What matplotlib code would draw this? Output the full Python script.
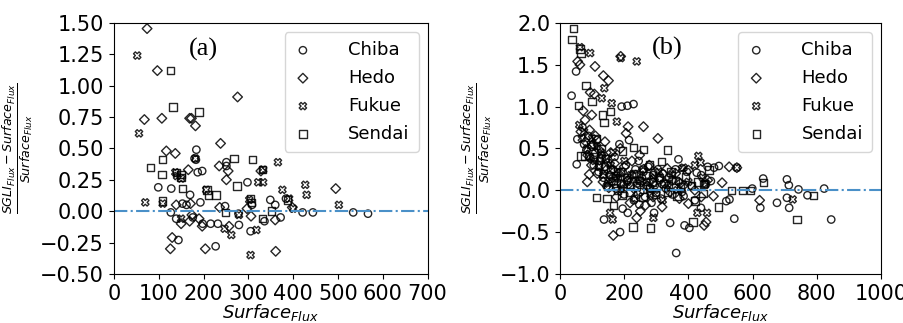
import numpy as np
import matplotlib.pyplot as plt

# ---- panel (a) ----
a_chiba_x = [180, 184, 187, 197, 99, 128, 170, 193, 153, 162, 127, 139, 144, 176, 198, 216, 232, 227,
             248, 251, 278, 279, 298, 305, 308, 336, 349, 360, 372, 384, 421, 444, 534, 567, 251, 183]
a_chiba_y = [0.42, 0.49, 0.31, 0.32, 0.19, 0.18, 0.13, 0.07, 0.06, 0.05, -0.01, -0.06, -0.23, -0.05, -0.10,
             -0.10, -0.10, -0.28, 0.04, 0.39, -0.02, -0.11, 0.23, -0.16, 0.05, -0.08, 0.09, 0.05, -0.05, 0.10,
             -0.01, -0.01, -0.01, -0.02, 0.36, 0.41]
a_hedo_x = [74, 97, 68, 107, 117, 137, 169, 173, 182, 276, 238, 166, 235, 251, 255, 139, 150, 130, 126,
            171, 174, 190, 204, 236, 257, 297, 306, 360, 361, 398, 495, 197, 169, 328]
a_hedo_y = [1.455, 1.12, 0.73, 0.74, 0.48, 0.46, 0.74, 0.74, 0.68, 0.91, 0.54, 0.33, 0.36, 0.25, 0.32, 0.05,
            -0.10, -0.21, -0.30, 0.06, -0.03, -0.06, -0.30, 0.03, -0.12, 0.02, -0.04, -0.07, -0.32, 0.03, 0.18,
            -0.12, -0.08, 0.32]
a_fukue_x = [52, 56, 70, 109, 137, 141, 150, 182, 206, 262, 247, 279, 318, 322, 333, 333, 366, 376, 391,
             400, 427, 430, 502, 305, 302, 150]
a_fukue_y = [1.24, 0.62, 0.07, 0.06, 0.31, 0.28, -0.06, 0.42, 0.17, -0.19, -0.14, -0.03, -0.15, 0.23, 0.23,
             0.33, 0.39, 0.17, 0.10, 0.02, 0.21, 0.13, 0.05, -0.35, 0.09, 0.26]
a_sendai_x = [126, 132, 190, 81, 108, 107, 153, 150, 208, 211, 228, 268, 275, 309, 331, 305, 307, 249, 332,
              351, 387, 109, 139, 150]
a_sendai_y = [1.12, 0.83, 0.79, 0.35, 0.41, 0.29, 0.18, 0.27, 0.17, 0.13, 0.13, 0.42, 0.20, 0.41, 0.33, 0.10,
              0.07, -0.01, -0.06, 0.00, 0.09, 0.08, 0.31, 0.29]

# ---- panel (b) ----
b_chiba_x = [36, 50, 54, 52, 229, 210, 192, 137, 187, 362, 388, 403, 343, 543, 528, 624, 633, 676, 707, 713,
             707, 714, 743, 771, 823, 845, 599, 369, 426, 495, 470, 518, 439, 385, 293, 247, 195, 211,
             70, 75, 82, 88, 95, 100, 105, 110, 115, 120, 125, 130, 135, 140, 145, 150, 155, 160, 165, 170,
             175, 180, 185, 190, 195, 200, 205, 210, 215, 220, 225, 230, 235, 240, 245, 250, 255, 260, 265,
             270, 275, 280, 285, 290, 295, 300, 305, 310, 315, 320, 330, 340, 350, 360, 370, 380, 395, 410,
             420, 440, 460, 480]
b_chiba_y = [1.13, 1.42, 0.61, 0.31, 1.03, 1.01, 1.00, -0.35, -0.50, -0.75, -0.42, -0.45, -0.39, -0.34, -0.11,
             -0.21, 0.14, -0.15, 0.13, 0.06, -0.09, -0.21, 0.01, -0.06, 0.02, -0.35, 0.02, 0.37, 0.21, 0.29,
             0.11, -0.13, -0.21, -0.07, -0.27, -0.17, -0.22, -0.27,
             0.75, 0.55, 0.48, 0.65, 0.38, 0.52, 0.30, 0.45, 0.60, 0.22, 0.35, 0.42, 0.15, 0.28, 0.05, 0.33,
             0.18, 0.10, 0.25, 0.40, 0.02, 0.14, 0.55, 0.08, 0.22, -0.05, 0.30, 0.12, 0.60, 0.05, 0.18, -0.12,
             0.25, 0.08, 0.35, -0.02, 0.15, 0.22, -0.08, 0.10, 0.28, 0.03, -0.15, 0.18, 0.06, -0.03, 0.25,
             0.12, -0.10, 0.20, 0.02, 0.15, -0.05, 0.25, 0.10, -0.02, 0.22, 0.05, -0.12, 0.18, 0.28, 0.27]
b_hedo_x = [55, 62, 109, 135, 151, 94, 107, 189, 212, 260, 305, 99, 78, 91, 85, 166, 239, 250, 455, 449,
            478, 505, 527, 551, 622, 400, 374,
            65, 72, 80, 86, 92, 98, 104, 110, 116, 122, 128, 134, 140, 146, 152, 158, 164, 170, 176, 182,
            188, 194, 200, 206, 212, 218, 224, 230, 236, 242, 248, 254, 260, 266, 272, 278, 284, 290, 296,
            302, 310, 318, 326, 334, 342, 350, 360, 372, 385, 400, 420, 440, 460]
b_hedo_y = [1.54, 1.50, 1.48, 1.37, 1.31, 1.17, 1.15, 1.60, 0.76, 0.76, 0.62, 0.90, 0.84, 0.19, 0.10, -0.54,
            -0.33, -0.25, -0.38, -0.42, -0.07, 0.09, 0.28, 0.27, -0.12, -0.16, 0.08,
            0.70, 0.95, 0.58, 0.42, 0.72, 0.30, 0.55, 0.65, 0.20, 0.48, 0.38, 0.10, 0.58, 0.25, 0.03, 0.45,
            0.15, 0.32, -0.08, 0.20, 0.50, 0.05, 0.28, 0.68, 0.12, -0.15, 0.35, 0.02, 0.18, -0.05, 0.42, 0.10,
            0.25, -0.18, 0.05, 0.30, 0.12, -0.08, 0.22, 0.02, 0.15, -0.20, 0.08, 0.26, -0.02, 0.12, 0.20,
            -0.10, 0.06, 0.24, 0.00, -0.08, 0.12]
b_fukue_x = [62, 94, 189, 239, 138, 130, 161, 177, 431, 438, 551, 725, 428, 164, 156, 291, 458, 385,
             60, 68, 75, 85, 92, 100, 108, 115, 122, 128, 135, 142, 150, 158, 165, 172, 180, 190, 200, 210,
             220, 232, 245, 258, 270, 282, 295, 308, 320, 335, 350, 365, 380, 400, 420, 445, 455]
b_fukue_y = [1.71, 1.64, 1.58, 1.54, 1.22, 1.10, 1.04, 0.82, 0.41, 0.33, 0.27, -0.11, -0.27, -0.35, -0.27,
             -0.33, -0.27, 0.27,
             0.78, 0.62, 0.70, 0.50, 0.40, 0.62, 0.35, 0.52, 0.28, 0.45, 0.18, 0.38, 0.08, 0.30, 0.45, 0.15,
             0.22, 0.02, 0.35, 0.10, 0.18, -0.10, 0.12, 0.25, 0.05, -0.05, 0.15, 0.22, -0.12, 0.08, 0.18,
             0.00, 0.26, 0.10, 0.30, 0.15, 0.08]
b_sendai_x = [42, 37, 62, 65, 81, 58, 100, 132, 137, 158, 65, 78, 229, 260, 335, 317, 464, 279, 195, 114,
              146, 166, 193, 227, 281, 414, 421, 494, 535, 569, 593, 634, 738, 790, 447, 445, 364, 338,
              95, 105, 112, 120, 128, 135, 142, 150, 158, 165, 172, 180, 188, 198, 208, 218, 228, 238, 248,
              258, 268, 278, 288, 298, 310, 322, 334, 346, 360, 375, 390, 410, 430, 450]
b_sendai_y = [1.93, 1.80, 1.69, 1.64, 1.25, 1.01, 1.06, 0.90, 0.81, 0.94, 0.41, 0.41, 0.51, 0.49, 0.48, 0.34,
              0.24, 0.30, 0.47, -0.09, -0.10, -0.18, -0.06, -0.44, -0.45, -0.38, -0.13, -0.20, 0.00, 0.00,
              0.00, 0.09, -0.35, -0.06, 0.07, -0.04, -0.07, 0.05,
              0.55, 0.40, 0.62, 0.30, 0.50, 0.20, 0.38, 0.05, 0.25, 0.12, 0.18, 0.00, 0.22, 0.08, 0.15, -0.02,
              0.20, 0.05, 0.12, -0.08, 0.18, 0.02, 0.10, -0.05, 0.15, 0.08, -0.02, 0.22, 0.12, 0.04, 0.16,
              0.06, 0.10, 0.08]

station_labels = ['Chiba', 'Hedo', 'Fukue', 'Sendai']
station_markers = ['o', 'D', 'X', 's']
marker_sizes = [28, 24, 28, 28]

fig = plt.figure(figsize=(9.04, 3.23), dpi=100)
ax_a = fig.add_axes([0.126, 0.152, 0.347, 0.777])
ax_b = fig.add_axes([0.6195, 0.152, 0.355, 0.777])

panels = [
    (ax_a, [(a_chiba_x, a_chiba_y), (a_hedo_x, a_hedo_y), (a_fukue_x, a_fukue_y), (a_sendai_x, a_sendai_y)],
     (0, 700), (-0.5, 1.5), np.arange(0, 701, 100), np.arange(-0.5, 1.51, 0.25), '(a)', (168, 1.29), '{:.2f}'),
    (ax_b, [(b_chiba_x, b_chiba_y), (b_hedo_x, b_hedo_y), (b_fukue_x, b_fukue_y), (b_sendai_x, b_sendai_y)],
     (0, 1000), (-1.0, 2.0), np.arange(0, 1001, 200), np.arange(-1.0, 2.01, 0.5), '(b)', (287, 1.69), '{:.1f}'),
]

for ax, series, xlim, ylim, xt, yt, tag, tag_xy, fmt in panels:
    for (x, y), lab, mk, sz in zip(series, station_labels, station_markers, marker_sizes):
        ax.scatter(x, y, marker=mk, s=sz, facecolors='none', edgecolors='k',
                   linewidths=1.0, alpha=0.85, label=lab)
    ax.axhline(0, color='#4a90c8', linestyle='-.', linewidth=1.5)
    ax.set_xlim(*xlim)
    ax.set_ylim(*ylim)
    ax.set_xticks(xt)
    ax.set_yticks(yt)
    ax.set_yticklabels([fmt.format(v).replace('-', '\u2212') for v in yt])
    ax.tick_params(labelsize=15)
    ax.set_xlabel(r'$Surface_{Flux}$', fontsize=13, labelpad=-1)
    ax.set_ylabel(r'$\frac{SGLI_{Flux} - Surface_{Flux}}{Surface_{Flux}}$', fontsize=13, labelpad=4)
    ax.text(tag_xy[0], tag_xy[1], tag, fontsize=19, family='Liberation Serif', va='center')
    ax.legend(loc='upper right', fontsize=13, handlelength=1.0, handletextpad=2.0, borderpad=0.5,
              labelspacing=0.55, framealpha=0.8)

fig.savefig('out.png', dpi=100)
